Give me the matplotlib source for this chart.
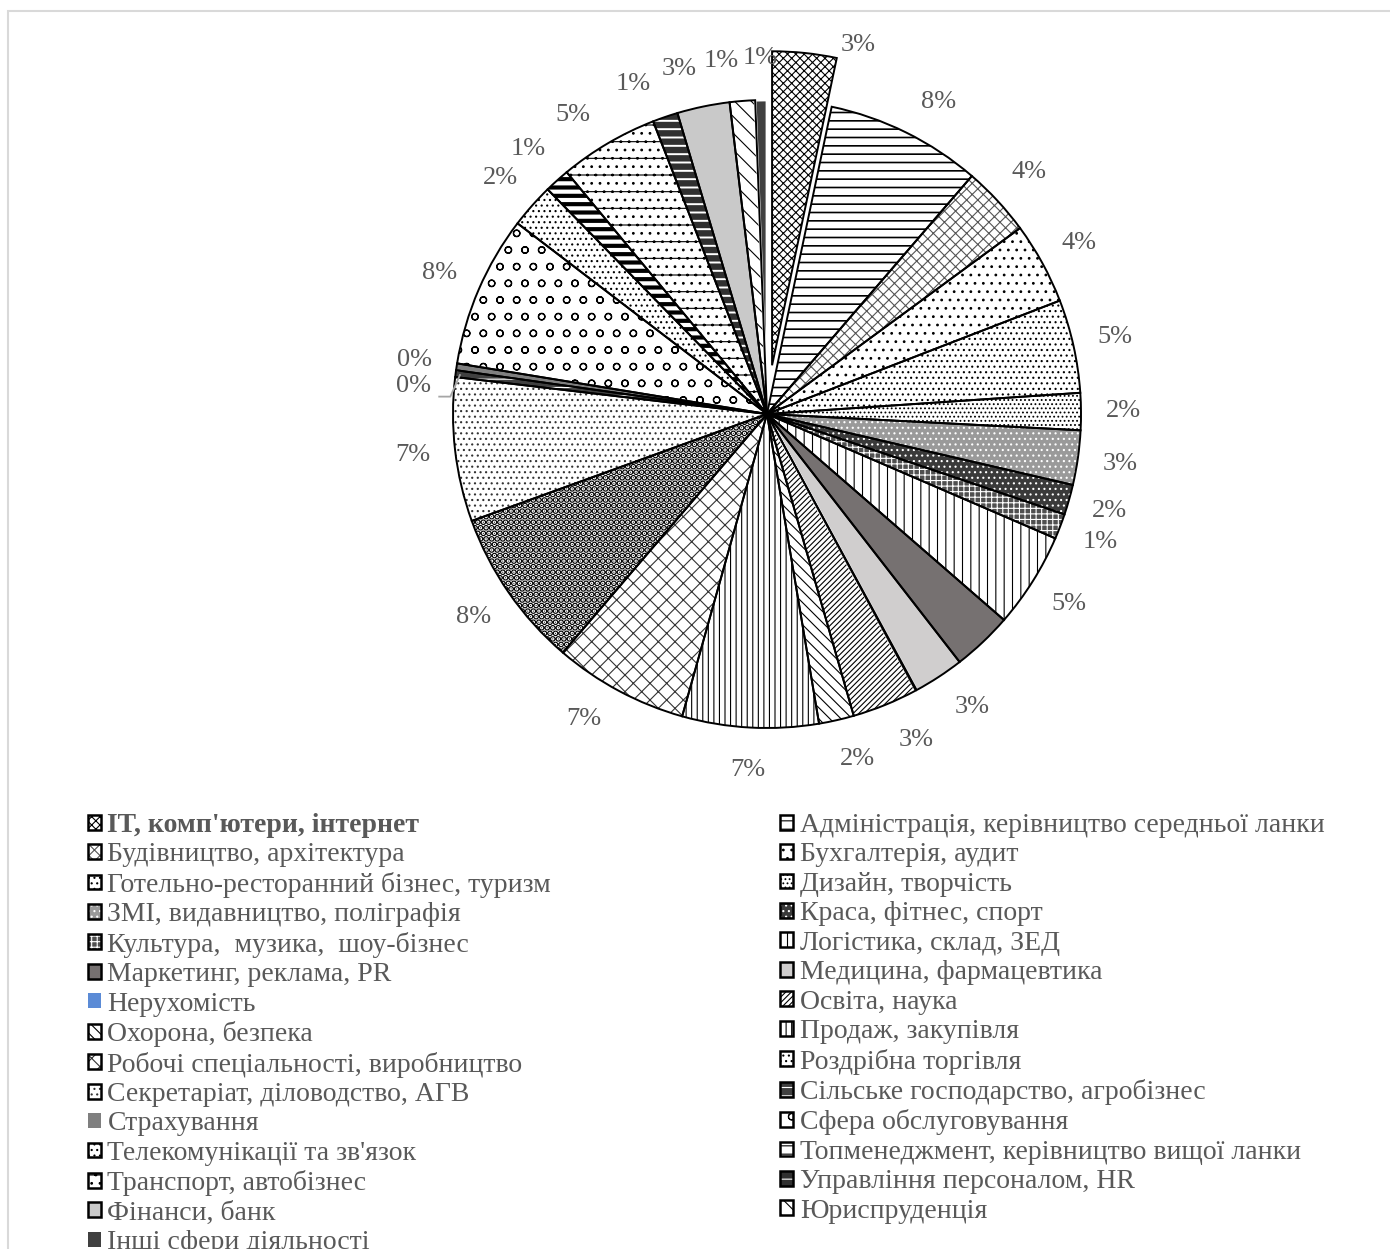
import matplotlib
matplotlib.use("Agg")
import matplotlib.pyplot as plt
import numpy as np
from matplotlib.patches import Wedge, Patch, Rectangle
from matplotlib.legend_handler import HandlerTuple

plt.rcParams["font.family"] = ["Liberation Serif", "DejaVu Serif"]
plt.rcParams["hatch.linewidth"] = 0.8

# Vacancy shares by field of activity, %
categories = [
    "IT, комп'ютери, інтернет",
    "Адміністрація, керівництво середньої ланки",
    "Будівництво, архітектура",
    "Бухгалтерія, аудит",
    "Готельно-ресторанний бізнес, туризм",
    "Дизайн, творчість",
    "ЗМІ, видавництво, поліграфія",
    "Краса, фітнес, спорт",
    "Культура,  музика,  шоу-бізнес",
    "Логістика, склад, ЗЕД",
    "Маркетинг, реклама, PR",
    "Медицина, фармацевтика",
    "Нерухомість",
    "Освіта, наука",
    "Охорона, безпека",
    "Продаж, закупівля",
    "Робочі спеціальності, виробництво",
    "Роздрібна торгівля",
    "Секретаріат, діловодство, АГВ",
    "Сільське господарство, агробізнес",
    "Страхування",
    "Сфера обслуговування",
    "Телекомунікації та зв'язок",
    "Топменеджмент, керівництво вищої ланки",
    "Транспорт, автобізнес",
    "Управління персоналом, HR",
    "Фінанси, банк",
    "Юриспруденція",
    "Інші сфери діяльності",
]
shares = [3.3, 8.0, 3.6, 4.2, 4.8, 1.9, 2.8, 1.55, 1.3, 4.9,
          3.1, 2.6, 0.05, 3.4, 1.8, 7.0, 6.9, 8.2, 7.4, 0.35,
          0.35, 7.8, 2.3, 1.3, 5.1, 1.3, 2.7, 1.3, 0.6]
unlabelled = ["Маркетинг, реклама, PR", "Нерухомість"]
highlighted = "IT, комп'ютери, інтернет"

# fill colour, hatch, hatch colour and hatch line width for each slice
face_colors = ["white", "white", "white", "white", "white", "white", "#9a9a9a", "#3a3a3a",
               "#505050", "white", "#767171", "#d0cece", "#5b8bd6", "white", "white", "white",
               "white", "white", "white", "#404040", "#7f7f7f", "white", "white", "white",
               "white", "#303030", "#c9c9c9", "white", "#404040"]
hatches = ["xxxx", "--", "xxx", "..", "...", "....", "...", "...",
           "+++", "||", "", "", "", "//////", "\\\\\\", "|||",
           "xx", "...", "...", "--", "", "o", "...", "--",
           "-..", "--", "", "\\\\", ""]
hatch_colors = ["black", "black", "#555555", "black", "black", "black", "white", "white",
                "white", "black", "black", "black", "black", "black", "black", "black",
                "#333333", "black", "#333333", "white", "black", "black", "black", "black",
                "black", "white", "black", "black", "black"]
hatch_widths = [0.8, 1.2, 0.8, 0.8, 0.8, 0.8, 0.8, 0.8,
                0.8, 0.8, 0.8, 0.8, 0.8, 0.8, 0.8, 0.8,
                0.8, 3.2, 0.8, 0.8, 0.8, 0.9, 0.8, 3.0,
                0.8, 1.4, 0.8, 0.8, 0.8]
borderless = ["Нерухомість", "Страхування", "Інші сфери діяльності"]

TEXT_GREY = "#595959"
W, H, DPI = 1390, 1249, 100
CX, CY, R = 767, 414, 314          # pie centre / radius in pixels

fig = plt.figure(figsize=(W / DPI, H / DPI), dpi=DPI)
ax = fig.add_axes([0, 0, 1, 1])

explode = [0.156 if c == highlighted else 0 for c in categories]
wedges, _ = ax.pie(shares, startangle=90, counterclock=False, explode=explode,
                   radius=1, wedgeprops=dict(linewidth=0))


def style_patch(p, i):
    p.set_facecolor(face_colors[i])
    p.set_edgecolor(hatch_colors[i])      # also sets the hatch colour
    p.set_linewidth(0)
    if hatches[i]:
        p.set_hatch(hatches[i])
        if hasattr(p, "set_hatch_linewidth"):
            p.set_hatch_linewidth(hatch_widths[i])


for i, w in enumerate(wedges):
    style_patch(w, i)

# slice outlines
for w, c in zip(wedges, categories):
    if c in borderless and c != "Страхування":
        ax.add_patch(Wedge(w.center, w.r, w.theta1, w.theta2, fill=False,
                           edgecolor="white", linewidth=2.0, zorder=3))
for w, c in zip(wedges, categories):
    if c in borderless and c != "Страхування":
        continue
    ax.add_patch(Wedge(w.center, w.r, w.theta1, w.theta2, fill=False,
                       edgecolor="black", linewidth=1.4, joinstyle="miter", zorder=4))

# percentage labels: (clockwise angle shift in degrees, distance from centre)
nudges = {
    "IT, комп'ютери, інтернет": (7.9, 1.21),
    "Адміністрація, керівництво середньої ланки": (2.5, 1.135),
    "Медицина, фармацевтика": (-1.9, 1.14),
    "Освіта, наука": (-2.4, 1.14),
    "Охорона, безпека": (-1.9, 1.135),
    "Робочі спеціальності, виробництво": (2.9, 1.135),
    "Сільське господарство, агробізнес": (-2.8, 1.13),
    "Транспорт, автобізнес": (-2.5, 1.135),
    "Управління персоналом, HR": (-3.2, 1.135),
    "Фінанси, банк": (-2.6, 1.135),
    "Юриспруденція": (-2.9, 1.135),
}
total = sum(shares)
for w, c, v in zip(wedges, categories, shares):
    if c in unlabelled:
        continue
    mid = 0.5 * (w.theta1 + w.theta2)
    shift, dist = nudges.get(c, (0.0, 1.135))
    a = np.deg2rad(mid - shift)
    x, y = dist * np.cos(a), dist * np.sin(a)
    ax.text(x, y, f"{v / total * 100:.0f}%", ha="center", va="center",
            fontsize=19, color=TEXT_GREY, zorder=5)
    if c == "Сільське господарство, агробізнес":
        m = np.deg2rad(mid)
        ex, ey = 0.985 * np.cos(m), 0.985 * np.sin(m)
        sx, sy = x + 25 / R, y - 11 / R
        ax.plot([sx, sx + 12 / R, ex], [sy, sy, ey], color="#a6a6a6",
                linewidth=1.3, zorder=6, solid_capstyle="butt")

ax.set_xlim(-CX / R, (W - CX) / R)
ax.set_ylim(-(H - CY) / R, CY / R)
ax.set_aspect("equal", adjustable="box")
ax.axis("off")

# legend, filled row by row in two columns
n = len(categories)
order = list(range(0, n, 2)) + list(range(1, n, 2))
handles = []
for i in order:
    base = Patch()
    style_patch(base, i)
    if categories[i] in borderless:
        handles.append(base)
    else:
        handles.append((base, Patch(facecolor="none", edgecolor="black", linewidth=1.8)))
leg = fig.legend(handles, [categories[i] for i in order], ncol=2, loc="upper left",
                 bbox_to_anchor=(88 / W, 1 - 813 / H), frameon=False, fontsize=20,
                 handlelength=0.45, handleheight=0.45, handletextpad=0.25,
                 columnspacing=8.25, labelspacing=0.16, borderpad=0, borderaxespad=0,
                 handler_map={tuple: HandlerTuple(ndivide=1, pad=0)})
for t in leg.get_texts():
    t.set_color(TEXT_GREY)
leg.get_texts()[0].set_fontweight("bold")

# chart area border
fig.add_artist(Rectangle((8 / W, -0.02), 1.1, 1.02 - 11 / H, transform=fig.transFigure,
                         fill=False, edgecolor="#d9d9d9", linewidth=1.5))

fig.savefig("out.png", dpi=DPI)
